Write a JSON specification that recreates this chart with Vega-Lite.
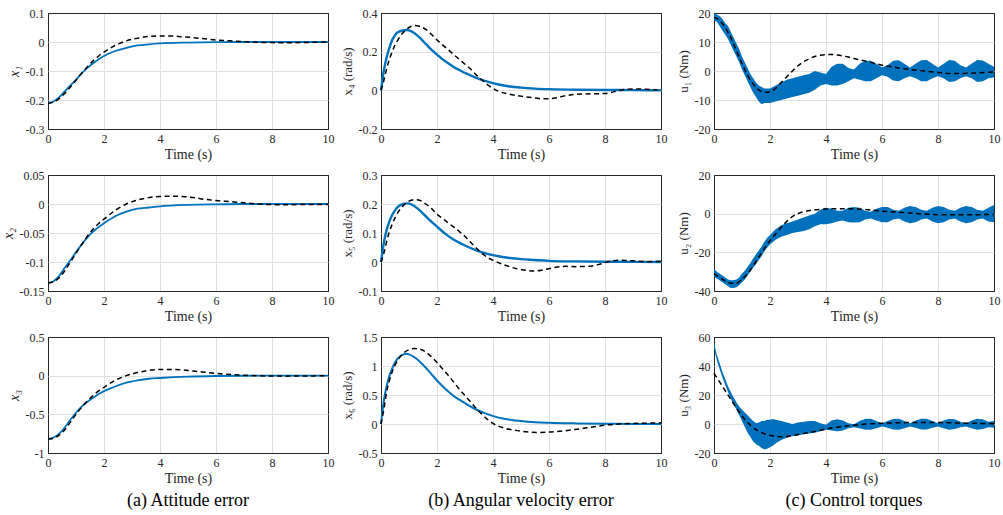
{
"$schema": "https://vega.github.io/schema/vega-lite/v6.json",
"background": "white",
"padding": {"left": 0, "top": 6, "right": 4, "bottom": 2},
"config": {
  "font": "Liberation Serif, serif",
  "view": {"stroke": "#262626", "strokeWidth": 1},
  "axis": {"domain": false, "ticks": false, "labelFlush": false, "labelOverlap": false,
    "gridColor": {"condition": {"test": "datum.index == 0 || datum.index == 1", "value": "#262626"}, "value": "#e0e0e0"}}
},
"datasets": {
"lines": [
{"p":"x1","s":"a","t":0,"y":-0.21},{"p":"x1","s":"a","t":0.2,"y":-0.205},{"p":"x1","s":"a","t":0.4,"y":-0.19},{"p":"x1","s":"a","t":0.6,"y":-0.17},{"p":"x1","s":"a","t":0.8,"y":-0.15},{"p":"x1","s":"a","t":1,"y":-0.13},{"p":"x1","s":"a","t":1.2,"y":-0.108},{"p":"x1","s":"a","t":1.4,"y":-0.09},{"p":"x1","s":"a","t":1.6,"y":-0.074},{"p":"x1","s":"a","t":1.8,"y":-0.06},{"p":"x1","s":"a","t":2,"y":-0.048},{"p":"x1","s":"a","t":2.4,"y":-0.031},{"p":"x1","s":"a","t":2.8,"y":-0.02},{"p":"x1","s":"a","t":3.2,"y":-0.012},{"p":"x1","s":"a","t":3.6,"y":-0.008},{"p":"x1","s":"a","t":4,"y":-0.005},{"p":"x1","s":"a","t":5,"y":-0.002},{"p":"x1","s":"a","t":6,"y":-0.0005},{"p":"x1","s":"a","t":7,"y":0},{"p":"x1","s":"a","t":8,"y":0},{"p":"x1","s":"a","t":9,"y":0},{"p":"x1","s":"a","t":10,"y":0},
{"p":"x1","s":"b","t":0,"y":-0.212},{"p":"x1","s":"b","t":0.2,"y":-0.207},{"p":"x1","s":"b","t":0.4,"y":-0.195},{"p":"x1","s":"b","t":0.6,"y":-0.177},{"p":"x1","s":"b","t":0.8,"y":-0.155},{"p":"x1","s":"b","t":1,"y":-0.132},{"p":"x1","s":"b","t":1.2,"y":-0.108},{"p":"x1","s":"b","t":1.4,"y":-0.086},{"p":"x1","s":"b","t":1.6,"y":-0.066},{"p":"x1","s":"b","t":1.8,"y":-0.049},{"p":"x1","s":"b","t":2,"y":-0.035},{"p":"x1","s":"b","t":2.4,"y":-0.012},{"p":"x1","s":"b","t":2.8,"y":0.004},{"p":"x1","s":"b","t":3.2,"y":0.013},{"p":"x1","s":"b","t":3.6,"y":0.019},{"p":"x1","s":"b","t":4,"y":0.021},{"p":"x1","s":"b","t":4.4,"y":0.021},{"p":"x1","s":"b","t":4.8,"y":0.018},{"p":"x1","s":"b","t":5.2,"y":0.015},{"p":"x1","s":"b","t":5.6,"y":0.011},{"p":"x1","s":"b","t":6,"y":0.007},{"p":"x1","s":"b","t":6.5,"y":0.004},{"p":"x1","s":"b","t":7,"y":0.001},{"p":"x1","s":"b","t":7.5,"y":-0.001},{"p":"x1","s":"b","t":8,"y":-0.002},{"p":"x1","s":"b","t":8.5,"y":-0.0025},{"p":"x1","s":"b","t":9,"y":-0.002},{"p":"x1","s":"b","t":9.5,"y":-0.001},{"p":"x1","s":"b","t":10,"y":0},
{"p":"x2","s":"a","t":0,"y":-0.136},{"p":"x2","s":"a","t":0.2,"y":-0.133},{"p":"x2","s":"a","t":0.4,"y":-0.124},{"p":"x2","s":"a","t":0.6,"y":-0.11},{"p":"x2","s":"a","t":0.8,"y":-0.097},{"p":"x2","s":"a","t":1,"y":-0.083},{"p":"x2","s":"a","t":1.2,"y":-0.07},{"p":"x2","s":"a","t":1.4,"y":-0.058},{"p":"x2","s":"a","t":1.6,"y":-0.048},{"p":"x2","s":"a","t":1.8,"y":-0.04},{"p":"x2","s":"a","t":2,"y":-0.033},{"p":"x2","s":"a","t":2.4,"y":-0.021},{"p":"x2","s":"a","t":2.8,"y":-0.013},{"p":"x2","s":"a","t":3.2,"y":-0.008},{"p":"x2","s":"a","t":3.6,"y":-0.006},{"p":"x2","s":"a","t":4,"y":-0.004},{"p":"x2","s":"a","t":5,"y":-0.0015},{"p":"x2","s":"a","t":6,"y":-0.0005},{"p":"x2","s":"a","t":7,"y":0},{"p":"x2","s":"a","t":8,"y":0},{"p":"x2","s":"a","t":9,"y":0},{"p":"x2","s":"a","t":10,"y":0},
{"p":"x2","s":"b","t":0,"y":-0.136},{"p":"x2","s":"b","t":0.2,"y":-0.134},{"p":"x2","s":"b","t":0.4,"y":-0.127},{"p":"x2","s":"b","t":0.6,"y":-0.115},{"p":"x2","s":"b","t":0.8,"y":-0.1},{"p":"x2","s":"b","t":1,"y":-0.085},{"p":"x2","s":"b","t":1.2,"y":-0.07},{"p":"x2","s":"b","t":1.4,"y":-0.056},{"p":"x2","s":"b","t":1.6,"y":-0.044},{"p":"x2","s":"b","t":1.8,"y":-0.034},{"p":"x2","s":"b","t":2,"y":-0.026},{"p":"x2","s":"b","t":2.4,"y":-0.011},{"p":"x2","s":"b","t":2.8,"y":0},{"p":"x2","s":"b","t":3.2,"y":0.007},{"p":"x2","s":"b","t":3.6,"y":0.011},{"p":"x2","s":"b","t":4,"y":0.013},{"p":"x2","s":"b","t":4.4,"y":0.0135},{"p":"x2","s":"b","t":4.8,"y":0.013},{"p":"x2","s":"b","t":5.2,"y":0.011},{"p":"x2","s":"b","t":5.6,"y":0.008},{"p":"x2","s":"b","t":6,"y":0.006},{"p":"x2","s":"b","t":6.5,"y":0.004},{"p":"x2","s":"b","t":7,"y":0.002},{"p":"x2","s":"b","t":7.5,"y":0},{"p":"x2","s":"b","t":8,"y":-0.001},{"p":"x2","s":"b","t":8.5,"y":-0.0015},{"p":"x2","s":"b","t":9,"y":-0.001},{"p":"x2","s":"b","t":10,"y":-0.001},
{"p":"x3","s":"a","t":0,"y":-0.82},{"p":"x3","s":"a","t":0.2,"y":-0.8},{"p":"x3","s":"a","t":0.4,"y":-0.75},{"p":"x3","s":"a","t":0.6,"y":-0.67},{"p":"x3","s":"a","t":0.8,"y":-0.57},{"p":"x3","s":"a","t":1,"y":-0.48},{"p":"x3","s":"a","t":1.2,"y":-0.4},{"p":"x3","s":"a","t":1.4,"y":-0.34},{"p":"x3","s":"a","t":1.6,"y":-0.29},{"p":"x3","s":"a","t":1.8,"y":-0.24},{"p":"x3","s":"a","t":2,"y":-0.2},{"p":"x3","s":"a","t":2.4,"y":-0.14},{"p":"x3","s":"a","t":2.8,"y":-0.09},{"p":"x3","s":"a","t":3.2,"y":-0.06},{"p":"x3","s":"a","t":3.6,"y":-0.04},{"p":"x3","s":"a","t":4,"y":-0.03},{"p":"x3","s":"a","t":5,"y":-0.012},{"p":"x3","s":"a","t":6,"y":-0.004},{"p":"x3","s":"a","t":7,"y":-0.001},{"p":"x3","s":"a","t":8,"y":0},{"p":"x3","s":"a","t":9,"y":0},{"p":"x3","s":"a","t":10,"y":0},
{"p":"x3","s":"b","t":0,"y":-0.82},{"p":"x3","s":"b","t":0.2,"y":-0.81},{"p":"x3","s":"b","t":0.4,"y":-0.77},{"p":"x3","s":"b","t":0.6,"y":-0.7},{"p":"x3","s":"b","t":0.8,"y":-0.6},{"p":"x3","s":"b","t":1,"y":-0.5},{"p":"x3","s":"b","t":1.2,"y":-0.41},{"p":"x3","s":"b","t":1.4,"y":-0.33},{"p":"x3","s":"b","t":1.6,"y":-0.26},{"p":"x3","s":"b","t":1.8,"y":-0.2},{"p":"x3","s":"b","t":2,"y":-0.15},{"p":"x3","s":"b","t":2.4,"y":-0.06},{"p":"x3","s":"b","t":2.8,"y":0},{"p":"x3","s":"b","t":3.2,"y":0.04},{"p":"x3","s":"b","t":3.6,"y":0.07},{"p":"x3","s":"b","t":4,"y":0.08},{"p":"x3","s":"b","t":4.4,"y":0.08},{"p":"x3","s":"b","t":4.8,"y":0.075},{"p":"x3","s":"b","t":5.2,"y":0.06},{"p":"x3","s":"b","t":5.6,"y":0.045},{"p":"x3","s":"b","t":6,"y":0.03},{"p":"x3","s":"b","t":6.5,"y":0.015},{"p":"x3","s":"b","t":7,"y":0.005},{"p":"x3","s":"b","t":7.5,"y":-0.002},{"p":"x3","s":"b","t":8,"y":-0.005},{"p":"x3","s":"b","t":8.5,"y":-0.006},{"p":"x3","s":"b","t":9,"y":-0.004},{"p":"x3","s":"b","t":10,"y":-0.002},
{"p":"x4","s":"a","t":0,"y":0},{"p":"x4","s":"a","t":0.1,"y":0.1},{"p":"x4","s":"a","t":0.2,"y":0.17},{"p":"x4","s":"a","t":0.3,"y":0.22},{"p":"x4","s":"a","t":0.4,"y":0.26},{"p":"x4","s":"a","t":0.5,"y":0.285},{"p":"x4","s":"a","t":0.6,"y":0.3},{"p":"x4","s":"a","t":0.8,"y":0.31},{"p":"x4","s":"a","t":0.9,"y":0.312},{"p":"x4","s":"a","t":1,"y":0.31},{"p":"x4","s":"a","t":1.2,"y":0.295},{"p":"x4","s":"a","t":1.4,"y":0.27},{"p":"x4","s":"a","t":1.6,"y":0.24},{"p":"x4","s":"a","t":1.8,"y":0.21},{"p":"x4","s":"a","t":2,"y":0.185},{"p":"x4","s":"a","t":2.2,"y":0.16},{"p":"x4","s":"a","t":2.4,"y":0.14},{"p":"x4","s":"a","t":2.6,"y":0.12},{"p":"x4","s":"a","t":2.8,"y":0.105},{"p":"x4","s":"a","t":3,"y":0.09},{"p":"x4","s":"a","t":3.4,"y":0.065},{"p":"x4","s":"a","t":3.8,"y":0.045},{"p":"x4","s":"a","t":4.2,"y":0.03},{"p":"x4","s":"a","t":4.6,"y":0.02},{"p":"x4","s":"a","t":5,"y":0.014},{"p":"x4","s":"a","t":5.5,"y":0.009},{"p":"x4","s":"a","t":6,"y":0.006},{"p":"x4","s":"a","t":7,"y":0.003},{"p":"x4","s":"a","t":8,"y":0.002},{"p":"x4","s":"a","t":9,"y":0.001},{"p":"x4","s":"a","t":10,"y":0},
{"p":"x4","s":"b","t":0,"y":0},{"p":"x4","s":"b","t":0.1,"y":0.05},{"p":"x4","s":"b","t":0.2,"y":0.11},{"p":"x4","s":"b","t":0.3,"y":0.16},{"p":"x4","s":"b","t":0.4,"y":0.2},{"p":"x4","s":"b","t":0.5,"y":0.235},{"p":"x4","s":"b","t":0.6,"y":0.26},{"p":"x4","s":"b","t":0.8,"y":0.3},{"p":"x4","s":"b","t":1,"y":0.325},{"p":"x4","s":"b","t":1.2,"y":0.335},{"p":"x4","s":"b","t":1.4,"y":0.33},{"p":"x4","s":"b","t":1.6,"y":0.315},{"p":"x4","s":"b","t":1.8,"y":0.29},{"p":"x4","s":"b","t":2,"y":0.26},{"p":"x4","s":"b","t":2.2,"y":0.235},{"p":"x4","s":"b","t":2.4,"y":0.21},{"p":"x4","s":"b","t":2.6,"y":0.185},{"p":"x4","s":"b","t":2.8,"y":0.16},{"p":"x4","s":"b","t":3,"y":0.135},{"p":"x4","s":"b","t":3.2,"y":0.11},{"p":"x4","s":"b","t":3.4,"y":0.08},{"p":"x4","s":"b","t":3.6,"y":0.055},{"p":"x4","s":"b","t":3.8,"y":0.03},{"p":"x4","s":"b","t":4,"y":0.01},{"p":"x4","s":"b","t":4.2,"y":-0.005},{"p":"x4","s":"b","t":4.6,"y":-0.02},{"p":"x4","s":"b","t":5,"y":-0.03},{"p":"x4","s":"b","t":5.4,"y":-0.038},{"p":"x4","s":"b","t":5.8,"y":-0.044},{"p":"x4","s":"b","t":6.2,"y":-0.04},{"p":"x4","s":"b","t":6.6,"y":-0.028},{"p":"x4","s":"b","t":7,"y":-0.02},{"p":"x4","s":"b","t":7.5,"y":-0.018},{"p":"x4","s":"b","t":8,"y":-0.016},{"p":"x4","s":"b","t":8.4,"y":-0.005},{"p":"x4","s":"b","t":8.8,"y":0.006},{"p":"x4","s":"b","t":9.2,"y":0.007},{"p":"x4","s":"b","t":9.6,"y":0.004},{"p":"x4","s":"b","t":10,"y":0},
{"p":"x5","s":"a","t":0,"y":0},{"p":"x5","s":"a","t":0.1,"y":0.065},{"p":"x5","s":"a","t":0.2,"y":0.11},{"p":"x5","s":"a","t":0.3,"y":0.14},{"p":"x5","s":"a","t":0.4,"y":0.162},{"p":"x5","s":"a","t":0.5,"y":0.178},{"p":"x5","s":"a","t":0.6,"y":0.19},{"p":"x5","s":"a","t":0.8,"y":0.2},{"p":"x5","s":"a","t":0.95,"y":0.202},{"p":"x5","s":"a","t":1.1,"y":0.198},{"p":"x5","s":"a","t":1.3,"y":0.185},{"p":"x5","s":"a","t":1.5,"y":0.167},{"p":"x5","s":"a","t":1.7,"y":0.148},{"p":"x5","s":"a","t":2,"y":0.122},{"p":"x5","s":"a","t":2.3,"y":0.097},{"p":"x5","s":"a","t":2.6,"y":0.077},{"p":"x5","s":"a","t":3,"y":0.057},{"p":"x5","s":"a","t":3.4,"y":0.04},{"p":"x5","s":"a","t":3.8,"y":0.028},{"p":"x5","s":"a","t":4.2,"y":0.02},{"p":"x5","s":"a","t":4.6,"y":0.014},{"p":"x5","s":"a","t":5,"y":0.01},{"p":"x5","s":"a","t":5.5,"y":0.007},{"p":"x5","s":"a","t":6,"y":0.004},{"p":"x5","s":"a","t":7,"y":0.002},{"p":"x5","s":"a","t":8,"y":0.001},{"p":"x5","s":"a","t":10,"y":0},
{"p":"x5","s":"b","t":0,"y":0},{"p":"x5","s":"b","t":0.1,"y":0.03},{"p":"x5","s":"b","t":0.2,"y":0.07},{"p":"x5","s":"b","t":0.3,"y":0.105},{"p":"x5","s":"b","t":0.4,"y":0.13},{"p":"x5","s":"b","t":0.5,"y":0.152},{"p":"x5","s":"b","t":0.6,"y":0.17},{"p":"x5","s":"b","t":0.8,"y":0.195},{"p":"x5","s":"b","t":1,"y":0.21},{"p":"x5","s":"b","t":1.2,"y":0.215},{"p":"x5","s":"b","t":1.4,"y":0.212},{"p":"x5","s":"b","t":1.6,"y":0.2},{"p":"x5","s":"b","t":1.8,"y":0.185},{"p":"x5","s":"b","t":2,"y":0.165},{"p":"x5","s":"b","t":2.2,"y":0.15},{"p":"x5","s":"b","t":2.4,"y":0.135},{"p":"x5","s":"b","t":2.6,"y":0.12},{"p":"x5","s":"b","t":2.8,"y":0.105},{"p":"x5","s":"b","t":3,"y":0.088},{"p":"x5","s":"b","t":3.2,"y":0.068},{"p":"x5","s":"b","t":3.4,"y":0.048},{"p":"x5","s":"b","t":3.6,"y":0.03},{"p":"x5","s":"b","t":3.8,"y":0.016},{"p":"x5","s":"b","t":4,"y":0.006},{"p":"x5","s":"b","t":4.4,"y":-0.01},{"p":"x5","s":"b","t":4.8,"y":-0.022},{"p":"x5","s":"b","t":5.2,"y":-0.029},{"p":"x5","s":"b","t":5.5,"y":-0.031},{"p":"x5","s":"b","t":5.8,"y":-0.027},{"p":"x5","s":"b","t":6.2,"y":-0.019},{"p":"x5","s":"b","t":6.6,"y":-0.015},{"p":"x5","s":"b","t":7,"y":-0.016},{"p":"x5","s":"b","t":7.4,"y":-0.015},{"p":"x5","s":"b","t":7.8,"y":-0.008},{"p":"x5","s":"b","t":8.2,"y":0.003},{"p":"x5","s":"b","t":8.6,"y":0.006},{"p":"x5","s":"b","t":9,"y":0.004},{"p":"x5","s":"b","t":9.5,"y":0.001},{"p":"x5","s":"b","t":10,"y":0.003},
{"p":"x6","s":"a","t":0,"y":0},{"p":"x6","s":"a","t":0.1,"y":0.4},{"p":"x6","s":"a","t":0.2,"y":0.65},{"p":"x6","s":"a","t":0.3,"y":0.83},{"p":"x6","s":"a","t":0.4,"y":0.96},{"p":"x6","s":"a","t":0.5,"y":1.06},{"p":"x6","s":"a","t":0.6,"y":1.13},{"p":"x6","s":"a","t":0.8,"y":1.2},{"p":"x6","s":"a","t":0.9,"y":1.21},{"p":"x6","s":"a","t":1,"y":1.2},{"p":"x6","s":"a","t":1.2,"y":1.15},{"p":"x6","s":"a","t":1.4,"y":1.07},{"p":"x6","s":"a","t":1.6,"y":0.97},{"p":"x6","s":"a","t":1.8,"y":0.86},{"p":"x6","s":"a","t":2,"y":0.75},{"p":"x6","s":"a","t":2.2,"y":0.65},{"p":"x6","s":"a","t":2.4,"y":0.56},{"p":"x6","s":"a","t":2.6,"y":0.48},{"p":"x6","s":"a","t":2.8,"y":0.42},{"p":"x6","s":"a","t":3,"y":0.36},{"p":"x6","s":"a","t":3.4,"y":0.25},{"p":"x6","s":"a","t":3.8,"y":0.17},{"p":"x6","s":"a","t":4.2,"y":0.11},{"p":"x6","s":"a","t":4.6,"y":0.075},{"p":"x6","s":"a","t":5,"y":0.05},{"p":"x6","s":"a","t":5.5,"y":0.03},{"p":"x6","s":"a","t":6,"y":0.02},{"p":"x6","s":"a","t":7,"y":0.01},{"p":"x6","s":"a","t":8,"y":0.005},{"p":"x6","s":"a","t":9,"y":0.002},{"p":"x6","s":"a","t":10,"y":0},
{"p":"x6","s":"b","t":0,"y":0},{"p":"x6","s":"b","t":0.1,"y":0.25},{"p":"x6","s":"b","t":0.2,"y":0.55},{"p":"x6","s":"b","t":0.3,"y":0.75},{"p":"x6","s":"b","t":0.4,"y":0.9},{"p":"x6","s":"b","t":0.6,"y":1.1},{"p":"x6","s":"b","t":0.8,"y":1.22},{"p":"x6","s":"b","t":1,"y":1.28},{"p":"x6","s":"b","t":1.2,"y":1.3},{"p":"x6","s":"b","t":1.4,"y":1.29},{"p":"x6","s":"b","t":1.6,"y":1.24},{"p":"x6","s":"b","t":1.8,"y":1.16},{"p":"x6","s":"b","t":2,"y":1.06},{"p":"x6","s":"b","t":2.2,"y":0.95},{"p":"x6","s":"b","t":2.4,"y":0.84},{"p":"x6","s":"b","t":2.6,"y":0.72},{"p":"x6","s":"b","t":2.8,"y":0.6},{"p":"x6","s":"b","t":3,"y":0.49},{"p":"x6","s":"b","t":3.2,"y":0.38},{"p":"x6","s":"b","t":3.4,"y":0.27},{"p":"x6","s":"b","t":3.6,"y":0.17},{"p":"x6","s":"b","t":3.8,"y":0.08},{"p":"x6","s":"b","t":4,"y":0.01},{"p":"x6","s":"b","t":4.4,"y":-0.07},{"p":"x6","s":"b","t":4.8,"y":-0.11},{"p":"x6","s":"b","t":5.2,"y":-0.135},{"p":"x6","s":"b","t":5.6,"y":-0.145},{"p":"x6","s":"b","t":6,"y":-0.14},{"p":"x6","s":"b","t":6.5,"y":-0.12},{"p":"x6","s":"b","t":7,"y":-0.09},{"p":"x6","s":"b","t":7.5,"y":-0.055},{"p":"x6","s":"b","t":8,"y":-0.02},{"p":"x6","s":"b","t":8.5,"y":0},{"p":"x6","s":"b","t":9,"y":0.01},{"p":"x6","s":"b","t":9.5,"y":0.015},{"p":"x6","s":"b","t":10,"y":0.02},
{"p":"u1","s":"b","t":0,"y":18.5},{"p":"u1","s":"b","t":0.2,"y":17.5},{"p":"u1","s":"b","t":0.4,"y":15},{"p":"u1","s":"b","t":0.6,"y":11.5},{"p":"u1","s":"b","t":0.8,"y":7},{"p":"u1","s":"b","t":1,"y":2.5},{"p":"u1","s":"b","t":1.2,"y":-1.5},{"p":"u1","s":"b","t":1.4,"y":-4.5},{"p":"u1","s":"b","t":1.6,"y":-6.5},{"p":"u1","s":"b","t":1.8,"y":-7.3},{"p":"u1","s":"b","t":2,"y":-7.2},{"p":"u1","s":"b","t":2.2,"y":-6},{"p":"u1","s":"b","t":2.4,"y":-4},{"p":"u1","s":"b","t":2.6,"y":-2},{"p":"u1","s":"b","t":2.8,"y":0},{"p":"u1","s":"b","t":3,"y":1.8},{"p":"u1","s":"b","t":3.2,"y":3.2},{"p":"u1","s":"b","t":3.4,"y":4.2},{"p":"u1","s":"b","t":3.6,"y":5},{"p":"u1","s":"b","t":3.8,"y":5.4},{"p":"u1","s":"b","t":4,"y":5.6},{"p":"u1","s":"b","t":4.2,"y":5.7},{"p":"u1","s":"b","t":4.4,"y":5.5},{"p":"u1","s":"b","t":4.6,"y":5.2},{"p":"u1","s":"b","t":4.8,"y":4.8},{"p":"u1","s":"b","t":5,"y":4.3},{"p":"u1","s":"b","t":5.5,"y":3.2},{"p":"u1","s":"b","t":6,"y":2},{"p":"u1","s":"b","t":6.5,"y":1.2},{"p":"u1","s":"b","t":7,"y":0.5},{"p":"u1","s":"b","t":7.5,"y":0},{"p":"u1","s":"b","t":8,"y":-0.5},{"p":"u1","s":"b","t":8.5,"y":-0.85},{"p":"u1","s":"b","t":9,"y":-0.8},{"p":"u1","s":"b","t":9.5,"y":-0.6},{"p":"u1","s":"b","t":10,"y":-0.35},
{"p":"u2","s":"b","t":0,"y":-31},{"p":"u2","s":"b","t":0.2,"y":-33},{"p":"u2","s":"b","t":0.4,"y":-34.8},{"p":"u2","s":"b","t":0.6,"y":-36},{"p":"u2","s":"b","t":0.8,"y":-36},{"p":"u2","s":"b","t":1,"y":-34},{"p":"u2","s":"b","t":1.2,"y":-31},{"p":"u2","s":"b","t":1.4,"y":-27},{"p":"u2","s":"b","t":1.6,"y":-22.5},{"p":"u2","s":"b","t":1.8,"y":-18},{"p":"u2","s":"b","t":2,"y":-14},{"p":"u2","s":"b","t":2.2,"y":-10.5},{"p":"u2","s":"b","t":2.4,"y":-7},{"p":"u2","s":"b","t":2.6,"y":-4},{"p":"u2","s":"b","t":2.8,"y":-1.5},{"p":"u2","s":"b","t":3,"y":0},{"p":"u2","s":"b","t":3.2,"y":1},{"p":"u2","s":"b","t":3.6,"y":2},{"p":"u2","s":"b","t":4,"y":2.4},{"p":"u2","s":"b","t":4.5,"y":2.6},{"p":"u2","s":"b","t":5,"y":2.5},{"p":"u2","s":"b","t":5.5,"y":2},{"p":"u2","s":"b","t":6,"y":1.3},{"p":"u2","s":"b","t":6.5,"y":0.8},{"p":"u2","s":"b","t":7,"y":0.3},{"p":"u2","s":"b","t":7.5,"y":-0.2},{"p":"u2","s":"b","t":8,"y":-0.5},{"p":"u2","s":"b","t":8.5,"y":-0.6},{"p":"u2","s":"b","t":9,"y":-0.6},{"p":"u2","s":"b","t":9.5,"y":-0.5},{"p":"u2","s":"b","t":10,"y":-0.4},
{"p":"u3","s":"b","t":0,"y":35},{"p":"u3","s":"b","t":0.2,"y":29},{"p":"u3","s":"b","t":0.4,"y":23},{"p":"u3","s":"b","t":0.6,"y":17},{"p":"u3","s":"b","t":0.8,"y":11},{"p":"u3","s":"b","t":1,"y":5.5},{"p":"u3","s":"b","t":1.2,"y":1},{"p":"u3","s":"b","t":1.4,"y":-2.5},{"p":"u3","s":"b","t":1.6,"y":-5},{"p":"u3","s":"b","t":1.8,"y":-6.7},{"p":"u3","s":"b","t":2,"y":-7.8},{"p":"u3","s":"b","t":2.2,"y":-8.5},{"p":"u3","s":"b","t":2.4,"y":-8.8},{"p":"u3","s":"b","t":2.6,"y":-8.6},{"p":"u3","s":"b","t":2.8,"y":-8},{"p":"u3","s":"b","t":3,"y":-7.2},{"p":"u3","s":"b","t":3.4,"y":-5.9},{"p":"u3","s":"b","t":3.8,"y":-4.3},{"p":"u3","s":"b","t":4.2,"y":-2.8},{"p":"u3","s":"b","t":4.6,"y":-1.7},{"p":"u3","s":"b","t":5,"y":-0.8},{"p":"u3","s":"b","t":5.5,"y":0},{"p":"u3","s":"b","t":6,"y":0.5},{"p":"u3","s":"b","t":6.5,"y":0.8},{"p":"u3","s":"b","t":7,"y":1},{"p":"u3","s":"b","t":7.5,"y":1.1},{"p":"u3","s":"b","t":8,"y":1},{"p":"u3","s":"b","t":8.5,"y":0.8},{"p":"u3","s":"b","t":9,"y":0.6},{"p":"u3","s":"b","t":9.5,"y":0.4},{"p":"u3","s":"b","t":10,"y":0.2}
],
"bands": [
{"p":"u1","t":0,"y":17.5,"hi":20},{"p":"u1","t":0.1,"y":17,"hi":19.5},{"p":"u1","t":0.2,"y":15.5,"hi":19},{"p":"u1","t":0.3,"y":14,"hi":18},{"p":"u1","t":0.4,"y":12.5,"hi":16.5},{"p":"u1","t":0.5,"y":11,"hi":15.5},{"p":"u1","t":0.6,"y":9,"hi":13.5},{"p":"u1","t":0.7,"y":7,"hi":11.5},{"p":"u1","t":0.8,"y":5,"hi":9.5},{"p":"u1","t":0.9,"y":3,"hi":7.5},{"p":"u1","t":1,"y":0.5,"hi":5},{"p":"u1","t":1.1,"y":-1.5,"hi":3},{"p":"u1","t":1.2,"y":-3.5,"hi":1},{"p":"u1","t":1.3,"y":-5.5,"hi":-1},{"p":"u1","t":1.4,"y":-7.5,"hi":-2.5},{"p":"u1","t":1.5,"y":-9,"hi":-4},{"p":"u1","t":1.6,"y":-10.5,"hi":-5},{"p":"u1","t":1.7,"y":-11.5,"hi":-5.5},{"p":"u1","t":1.8,"y":-11,"hi":-6},{"p":"u1","t":1.9,"y":-11,"hi":-6},{"p":"u1","t":2,"y":-11,"hi":-6},{"p":"u1","t":2.2,"y":-10.5,"hi":-5},{"p":"u1","t":2.4,"y":-10,"hi":-4},{"p":"u1","t":2.6,"y":-9.5,"hi":-3},{"p":"u1","t":2.8,"y":-9,"hi":-2.5},{"p":"u1","t":3,"y":-8.5,"hi":-2},{"p":"u1","t":3.2,"y":-8,"hi":-1.5},{"p":"u1","t":3.4,"y":-7.5,"hi":-1},{"p":"u1","t":3.6,"y":-6.5,"hi":0},{"p":"u1","t":3.8,"y":-5,"hi":-0.5},{"p":"u1","t":4,"y":-4.5,"hi":-1},{"p":"u1","t":4.2,"y":-5,"hi":1.5},{"p":"u1","t":4.4,"y":-5,"hi":2.5},{"p":"u1","t":4.6,"y":-4.5,"hi":2.5},{"p":"u1","t":4.8,"y":-3.5,"hi":1},{"p":"u1","t":5,"y":-2.5,"hi":0.5},{"p":"u1","t":5.2,"y":-3,"hi":2.5},{"p":"u1","t":5.4,"y":-3.5,"hi":3.5},{"p":"u1","t":5.6,"y":-3.5,"hi":3.5},{"p":"u1","t":5.8,"y":-2.5,"hi":2.5},{"p":"u1","t":6,"y":-1.5,"hi":1.2},{"p":"u1","t":6.2,"y":-2,"hi":2},{"p":"u1","t":6.4,"y":-3.3,"hi":3.5},{"p":"u1","t":6.6,"y":-3.5,"hi":3.7},{"p":"u1","t":6.8,"y":-2.5,"hi":2.5},{"p":"u1","t":7,"y":-1.8,"hi":1.2},{"p":"u1","t":7.2,"y":-2.5,"hi":2.5},{"p":"u1","t":7.4,"y":-3.5,"hi":3.7},{"p":"u1","t":7.6,"y":-3.5,"hi":3.8},{"p":"u1","t":7.8,"y":-2.5,"hi":2.5},{"p":"u1","t":8,"y":-1.8,"hi":1.2},{"p":"u1","t":8.2,"y":-2.5,"hi":2.5},{"p":"u1","t":8.4,"y":-3.8,"hi":3.8},{"p":"u1","t":8.6,"y":-3.5,"hi":3.5},{"p":"u1","t":8.8,"y":-2.5,"hi":2},{"p":"u1","t":9,"y":-1.8,"hi":1.2},{"p":"u1","t":9.2,"y":-2.5,"hi":2.5},{"p":"u1","t":9.4,"y":-3.8,"hi":3.8},{"p":"u1","t":9.6,"y":-3.5,"hi":3.6},{"p":"u1","t":9.8,"y":-2.5,"hi":2.5},{"p":"u1","t":10,"y":-2.2,"hi":1.5},
{"p":"u2","t":0,"y":-32.5,"hi":-28.5},{"p":"u2","t":0.1,"y":-33.5,"hi":-30},{"p":"u2","t":0.2,"y":-34.5,"hi":-31},{"p":"u2","t":0.3,"y":-35.5,"hi":-32},{"p":"u2","t":0.4,"y":-36.5,"hi":-33},{"p":"u2","t":0.5,"y":-37.5,"hi":-34},{"p":"u2","t":0.6,"y":-38.5,"hi":-34.5},{"p":"u2","t":0.7,"y":-38.5,"hi":-34.5},{"p":"u2","t":0.8,"y":-38,"hi":-34},{"p":"u2","t":0.9,"y":-37,"hi":-33},{"p":"u2","t":1,"y":-35.5,"hi":-31},{"p":"u2","t":1.1,"y":-34,"hi":-29.5},{"p":"u2","t":1.2,"y":-32,"hi":-27.5},{"p":"u2","t":1.3,"y":-30,"hi":-25.5},{"p":"u2","t":1.4,"y":-28,"hi":-23},{"p":"u2","t":1.5,"y":-26,"hi":-21},{"p":"u2","t":1.6,"y":-24,"hi":-19},{"p":"u2","t":1.7,"y":-22,"hi":-17},{"p":"u2","t":1.8,"y":-19.5,"hi":-14.5},{"p":"u2","t":1.9,"y":-17.5,"hi":-12.5},{"p":"u2","t":2,"y":-16,"hi":-11},{"p":"u2","t":2.2,"y":-13.5,"hi":-8},{"p":"u2","t":2.4,"y":-12,"hi":-6},{"p":"u2","t":2.6,"y":-11,"hi":-5},{"p":"u2","t":2.8,"y":-10,"hi":-4},{"p":"u2","t":3,"y":-9.5,"hi":-3},{"p":"u2","t":3.2,"y":-9,"hi":-2},{"p":"u2","t":3.4,"y":-8,"hi":-1},{"p":"u2","t":3.6,"y":-6.5,"hi":0},{"p":"u2","t":3.8,"y":-5.5,"hi":2},{"p":"u2","t":4,"y":-5.5,"hi":3},{"p":"u2","t":4.2,"y":-5,"hi":2.5},{"p":"u2","t":4.4,"y":-4,"hi":1.5},{"p":"u2","t":4.6,"y":-3.5,"hi":1.5},{"p":"u2","t":4.8,"y":-4.5,"hi":3},{"p":"u2","t":5,"y":-4.6,"hi":3.5},{"p":"u2","t":5.2,"y":-4.5,"hi":3},{"p":"u2","t":5.4,"y":-3,"hi":1.5},{"p":"u2","t":5.6,"y":-2.5,"hi":1},{"p":"u2","t":5.8,"y":-3.5,"hi":2.5},{"p":"u2","t":6,"y":-4.5,"hi":3.5},{"p":"u2","t":6.2,"y":-4.5,"hi":3.5},{"p":"u2","t":6.4,"y":-3,"hi":2},{"p":"u2","t":6.6,"y":-2.5,"hi":1.5},{"p":"u2","t":6.8,"y":-4,"hi":3},{"p":"u2","t":7,"y":-5,"hi":4},{"p":"u2","t":7.2,"y":-4.5,"hi":3.5},{"p":"u2","t":7.4,"y":-3,"hi":2},{"p":"u2","t":7.6,"y":-2.5,"hi":1.5},{"p":"u2","t":7.8,"y":-4,"hi":3},{"p":"u2","t":8,"y":-5,"hi":4},{"p":"u2","t":8.2,"y":-4.5,"hi":3.5},{"p":"u2","t":8.4,"y":-3,"hi":2},{"p":"u2","t":8.6,"y":-2.5,"hi":1.5},{"p":"u2","t":8.8,"y":-4,"hi":3},{"p":"u2","t":9,"y":-5,"hi":4},{"p":"u2","t":9.2,"y":-4.5,"hi":3.5},{"p":"u2","t":9.4,"y":-3,"hi":2},{"p":"u2","t":9.6,"y":-2.5,"hi":1.5},{"p":"u2","t":9.8,"y":-4,"hi":3},{"p":"u2","t":10,"y":-4.5,"hi":4.5},
{"p":"u3","t":0,"y":53,"hi":57},{"p":"u3","t":0.05,"y":48,"hi":52},{"p":"u3","t":0.1,"y":44,"hi":48},{"p":"u3","t":0.2,"y":38,"hi":42},{"p":"u3","t":0.3,"y":32,"hi":36},{"p":"u3","t":0.4,"y":27,"hi":31},{"p":"u3","t":0.5,"y":22,"hi":26},{"p":"u3","t":0.6,"y":17.5,"hi":22},{"p":"u3","t":0.7,"y":13.5,"hi":18.5},{"p":"u3","t":0.8,"y":10,"hi":15},{"p":"u3","t":0.9,"y":6,"hi":12},{"p":"u3","t":1,"y":2,"hi":10},{"p":"u3","t":1.1,"y":-2,"hi":8},{"p":"u3","t":1.2,"y":-6,"hi":6},{"p":"u3","t":1.3,"y":-9,"hi":4},{"p":"u3","t":1.4,"y":-12,"hi":2},{"p":"u3","t":1.5,"y":-14,"hi":0.5},{"p":"u3","t":1.6,"y":-15,"hi":1},{"p":"u3","t":1.7,"y":-16.5,"hi":2},{"p":"u3","t":1.8,"y":-17.5,"hi":2},{"p":"u3","t":1.9,"y":-17,"hi":3},{"p":"u3","t":2,"y":-16,"hi":3},{"p":"u3","t":2.1,"y":-15,"hi":3.5},{"p":"u3","t":2.2,"y":-13.5,"hi":3},{"p":"u3","t":2.4,"y":-11,"hi":2},{"p":"u3","t":2.6,"y":-9.5,"hi":1},{"p":"u3","t":2.8,"y":-8.5,"hi":0},{"p":"u3","t":3,"y":-8,"hi":1},{"p":"u3","t":3.2,"y":-7,"hi":1.5},{"p":"u3","t":3.4,"y":-6.5,"hi":2},{"p":"u3","t":3.6,"y":-6,"hi":2},{"p":"u3","t":3.8,"y":-5,"hi":0.5},{"p":"u3","t":4,"y":-4,"hi":-0.5},{"p":"u3","t":4.2,"y":-4.5,"hi":2.5},{"p":"u3","t":4.4,"y":-5,"hi":3.2},{"p":"u3","t":4.6,"y":-4.5,"hi":2.5},{"p":"u3","t":4.8,"y":-3,"hi":0.5},{"p":"u3","t":5,"y":-2.2,"hi":-0.2},{"p":"u3","t":5.2,"y":-3,"hi":2},{"p":"u3","t":5.4,"y":-4,"hi":3.5},{"p":"u3","t":5.6,"y":-4,"hi":3.7},{"p":"u3","t":5.8,"y":-3,"hi":2},{"p":"u3","t":6,"y":-1.8,"hi":0.5},{"p":"u3","t":6.2,"y":-2.5,"hi":2},{"p":"u3","t":6.4,"y":-3.8,"hi":3.5},{"p":"u3","t":6.6,"y":-4,"hi":3.7},{"p":"u3","t":6.8,"y":-3,"hi":2},{"p":"u3","t":7,"y":-1.8,"hi":0.5},{"p":"u3","t":7.2,"y":-2.5,"hi":2.5},{"p":"u3","t":7.4,"y":-3.8,"hi":3.7},{"p":"u3","t":7.6,"y":-3.8,"hi":3.7},{"p":"u3","t":7.8,"y":-2.5,"hi":2},{"p":"u3","t":8,"y":-1.8,"hi":0.5},{"p":"u3","t":8.2,"y":-3,"hi":2.5},{"p":"u3","t":8.4,"y":-4,"hi":3.7},{"p":"u3","t":8.6,"y":-3.5,"hi":3.3},{"p":"u3","t":8.8,"y":-2.2,"hi":1.5},{"p":"u3","t":9,"y":-1.8,"hi":0.5},{"p":"u3","t":9.2,"y":-3,"hi":2.5},{"p":"u3","t":9.4,"y":-4,"hi":3.7},{"p":"u3","t":9.6,"y":-3.5,"hi":3.3},{"p":"u3","t":9.8,"y":-2.2,"hi":1.5},{"p":"u3","t":10,"y":-2.5,"hi":2}
]
},
"columns": 3,
"spacing": {"row": 46, "column": 53},
"bounds": "flush",
"concat": [
{"width": 280, "height": 116, "data": {"name": "lines"},
 "encoding": {"x": {"field": "t", "type": "quantitative", "scale": {"domain": [0, 10], "nice": false}, "axis": {"values": [0, 2, 4, 6, 8, 10], "title": "Time (s)", "labelOverlap": false, "labelFont": "Liberation Serif", "labelFontSize": 12, "labelColor": "#262626", "labelPadding": 4, "titleFont": "Liberation Serif", "titleFontSize": 14, "titleFontWeight": "normal", "titleColor": "#262626", "titlePadding": 3}},
  "y": {"field": "y", "type": "quantitative", "scale": {"domain": [-0.3, 0.1], "nice": false, "zero": false}, "axis": {"values": [-0.3, -0.2, -0.1, 0, 0.1], "labelExpr": "'' + datum.value", "title": "x₁", "titleFontStyle": "italic", "labelOverlap": false, "labelFont": "Liberation Serif", "labelFontSize": 12, "labelColor": "#262626", "labelPadding": 4, "titleFont": "Liberation Serif", "titleFontSize": 14, "titleFontWeight": "normal", "titleColor": "#262626", "titlePadding": 4}}},
 "layer": [
  {"transform": [{"filter": "datum.p=='x1' && datum.s=='a'"}], "mark": {"type": "line", "color": "#0072BD", "strokeWidth": 1.8, "interpolate": "monotone"}},
  {"transform": [{"filter": "datum.p=='x1' && datum.s=='b'"}], "mark": {"type": "line", "color": "black", "strokeWidth": 1.5, "strokeDash": [5, 3.5], "interpolate": "monotone"}}
]},
{"width": 280, "height": 116, "data": {"name": "lines"},
 "encoding": {"x": {"field": "t", "type": "quantitative", "scale": {"domain": [0, 10], "nice": false}, "axis": {"values": [0, 2, 4, 6, 8, 10], "title": "Time (s)", "labelOverlap": false, "labelFont": "Liberation Serif", "labelFontSize": 12, "labelColor": "#262626", "labelPadding": 4, "titleFont": "Liberation Serif", "titleFontSize": 14, "titleFontWeight": "normal", "titleColor": "#262626", "titlePadding": 3}},
  "y": {"field": "y", "type": "quantitative", "scale": {"domain": [-0.2, 0.4], "nice": false, "zero": false}, "axis": {"values": [-0.2, 0, 0.2, 0.4], "labelExpr": "'' + datum.value", "title": "x₄ (rad/s)", "labelOverlap": false, "labelFont": "Liberation Serif", "labelFontSize": 12, "labelColor": "#262626", "labelPadding": 4, "titleFont": "Liberation Serif", "titleFontSize": 13, "titleFontWeight": "normal", "titleColor": "#262626", "titlePadding": 4}}},
 "layer": [
  {"transform": [{"filter": "datum.p=='x4' && datum.s=='a'"}], "mark": {"type": "line", "color": "#0072BD", "strokeWidth": 2.4, "interpolate": "monotone"}},
  {"transform": [{"filter": "datum.p=='x4' && datum.s=='b'"}], "mark": {"type": "line", "color": "black", "strokeWidth": 1.5, "strokeDash": [5, 3.5], "interpolate": "monotone"}}
]},
{"width": 280, "height": 116,
 "encoding": {"x": {"field": "t", "type": "quantitative", "scale": {"domain": [0, 10], "nice": false}, "axis": {"values": [0, 2, 4, 6, 8, 10], "title": "Time (s)", "labelOverlap": false, "labelFont": "Liberation Serif", "labelFontSize": 12, "labelColor": "#262626", "labelPadding": 4, "titleFont": "Liberation Serif", "titleFontSize": 14, "titleFontWeight": "normal", "titleColor": "#262626", "titlePadding": 3}},
  "y": {"field": "y", "type": "quantitative", "scale": {"domain": [-20, 20], "nice": false, "zero": false}, "axis": {"values": [-20, -10, 0, 10, 20], "labelExpr": "'' + datum.value", "title": "u₁ (Nm)", "labelOverlap": false, "labelFont": "Liberation Serif", "labelFontSize": 12, "labelColor": "#262626", "labelPadding": 4, "titleFont": "Liberation Serif", "titleFontSize": 13, "titleFontWeight": "normal", "titleColor": "#262626", "titlePadding": 4}}},
 "layer": [
  {"data": {"name": "bands"}, "transform": [{"filter": "datum.p=='u1'"}], "mark": {"type": "area", "color": "#0072BD", "opacity": 1}, "encoding": {"y2": {"field": "hi"}}},
  {"data": {"name": "lines"}, "transform": [{"filter": "datum.p=='u1' && datum.s=='b'"}], "mark": {"type": "line", "color": "black", "strokeWidth": 1.5, "strokeDash": [5, 3.5], "interpolate": "monotone"}}
]},
{"width": 280, "height": 116, "data": {"name": "lines"},
 "encoding": {"x": {"field": "t", "type": "quantitative", "scale": {"domain": [0, 10], "nice": false}, "axis": {"values": [0, 2, 4, 6, 8, 10], "title": "Time (s)", "labelOverlap": false, "labelFont": "Liberation Serif", "labelFontSize": 12, "labelColor": "#262626", "labelPadding": 4, "titleFont": "Liberation Serif", "titleFontSize": 14, "titleFontWeight": "normal", "titleColor": "#262626", "titlePadding": 3}},
  "y": {"field": "y", "type": "quantitative", "scale": {"domain": [-0.15, 0.05], "nice": false, "zero": false}, "axis": {"values": [-0.15, -0.1, -0.05, 0, 0.05], "labelExpr": "'' + datum.value", "title": "x₂", "titleFontStyle": "italic", "labelOverlap": false, "labelFont": "Liberation Serif", "labelFontSize": 12, "labelColor": "#262626", "labelPadding": 4, "titleFont": "Liberation Serif", "titleFontSize": 14, "titleFontWeight": "normal", "titleColor": "#262626", "titlePadding": 4}}},
 "layer": [
  {"transform": [{"filter": "datum.p=='x2' && datum.s=='a'"}], "mark": {"type": "line", "color": "#0072BD", "strokeWidth": 1.8, "interpolate": "monotone"}},
  {"transform": [{"filter": "datum.p=='x2' && datum.s=='b'"}], "mark": {"type": "line", "color": "black", "strokeWidth": 1.5, "strokeDash": [5, 3.5], "interpolate": "monotone"}}
]},
{"width": 280, "height": 116, "data": {"name": "lines"},
 "encoding": {"x": {"field": "t", "type": "quantitative", "scale": {"domain": [0, 10], "nice": false}, "axis": {"values": [0, 2, 4, 6, 8, 10], "title": "Time (s)", "labelOverlap": false, "labelFont": "Liberation Serif", "labelFontSize": 12, "labelColor": "#262626", "labelPadding": 4, "titleFont": "Liberation Serif", "titleFontSize": 14, "titleFontWeight": "normal", "titleColor": "#262626", "titlePadding": 3}},
  "y": {"field": "y", "type": "quantitative", "scale": {"domain": [-0.1, 0.3], "nice": false, "zero": false}, "axis": {"values": [-0.1, 0, 0.1, 0.2, 0.3], "labelExpr": "'' + datum.value", "title": "x₅ (rad/s)", "labelOverlap": false, "labelFont": "Liberation Serif", "labelFontSize": 12, "labelColor": "#262626", "labelPadding": 4, "titleFont": "Liberation Serif", "titleFontSize": 13, "titleFontWeight": "normal", "titleColor": "#262626", "titlePadding": 4}}},
 "layer": [
  {"transform": [{"filter": "datum.p=='x5' && datum.s=='a'"}], "mark": {"type": "line", "color": "#0072BD", "strokeWidth": 2.4, "interpolate": "monotone"}},
  {"transform": [{"filter": "datum.p=='x5' && datum.s=='b'"}], "mark": {"type": "line", "color": "black", "strokeWidth": 1.5, "strokeDash": [5, 3.5], "interpolate": "monotone"}}
]},
{"width": 280, "height": 116,
 "encoding": {"x": {"field": "t", "type": "quantitative", "scale": {"domain": [0, 10], "nice": false}, "axis": {"values": [0, 2, 4, 6, 8, 10], "title": "Time (s)", "labelOverlap": false, "labelFont": "Liberation Serif", "labelFontSize": 12, "labelColor": "#262626", "labelPadding": 4, "titleFont": "Liberation Serif", "titleFontSize": 14, "titleFontWeight": "normal", "titleColor": "#262626", "titlePadding": 3}},
  "y": {"field": "y", "type": "quantitative", "scale": {"domain": [-40, 20], "nice": false, "zero": false}, "axis": {"values": [-40, -20, 0, 20], "labelExpr": "'' + datum.value", "title": "u₂ (Nm)", "labelOverlap": false, "labelFont": "Liberation Serif", "labelFontSize": 12, "labelColor": "#262626", "labelPadding": 4, "titleFont": "Liberation Serif", "titleFontSize": 13, "titleFontWeight": "normal", "titleColor": "#262626", "titlePadding": 4}}},
 "layer": [
  {"data": {"name": "bands"}, "transform": [{"filter": "datum.p=='u2'"}], "mark": {"type": "area", "color": "#0072BD", "opacity": 1}, "encoding": {"y2": {"field": "hi"}}},
  {"data": {"name": "lines"}, "transform": [{"filter": "datum.p=='u2' && datum.s=='b'"}], "mark": {"type": "line", "color": "black", "strokeWidth": 1.5, "strokeDash": [5, 3.5], "interpolate": "monotone"}}
]},
{"width": 280, "height": 116, "data": {"name": "lines"},
 "title": {"text": "(a) Attitude error", "orient": "bottom", "anchor": "middle", "frame": "group", "offset": 7, "font": "Liberation Serif", "fontSize": 18, "fontWeight": "normal", "color": "black"},
 "encoding": {"x": {"field": "t", "type": "quantitative", "scale": {"domain": [0, 10], "nice": false}, "axis": {"values": [0, 2, 4, 6, 8, 10], "title": "Time (s)", "labelOverlap": false, "labelFont": "Liberation Serif", "labelFontSize": 12, "labelColor": "#262626", "labelPadding": 4, "titleFont": "Liberation Serif", "titleFontSize": 14, "titleFontWeight": "normal", "titleColor": "#262626", "titlePadding": 3}},
  "y": {"field": "y", "type": "quantitative", "scale": {"domain": [-1, 0.5], "nice": false, "zero": false}, "axis": {"values": [-1, -0.5, 0, 0.5], "labelExpr": "'' + datum.value", "title": "x₃", "titleFontStyle": "italic", "labelOverlap": false, "labelFont": "Liberation Serif", "labelFontSize": 12, "labelColor": "#262626", "labelPadding": 4, "titleFont": "Liberation Serif", "titleFontSize": 14, "titleFontWeight": "normal", "titleColor": "#262626", "titlePadding": 4}}},
 "layer": [
  {"transform": [{"filter": "datum.p=='x3' && datum.s=='a'"}], "mark": {"type": "line", "color": "#0072BD", "strokeWidth": 1.8, "interpolate": "monotone"}},
  {"transform": [{"filter": "datum.p=='x3' && datum.s=='b'"}], "mark": {"type": "line", "color": "black", "strokeWidth": 1.5, "strokeDash": [5, 3.5], "interpolate": "monotone"}}
]},
{"width": 280, "height": 116, "data": {"name": "lines"},
 "title": {"text": "(b) Angular velocity error", "orient": "bottom", "anchor": "middle", "frame": "group", "offset": 7, "font": "Liberation Serif", "fontSize": 18, "fontWeight": "normal", "color": "black"},
 "encoding": {"x": {"field": "t", "type": "quantitative", "scale": {"domain": [0, 10], "nice": false}, "axis": {"values": [0, 2, 4, 6, 8, 10], "title": "Time (s)", "labelOverlap": false, "labelFont": "Liberation Serif", "labelFontSize": 12, "labelColor": "#262626", "labelPadding": 4, "titleFont": "Liberation Serif", "titleFontSize": 14, "titleFontWeight": "normal", "titleColor": "#262626", "titlePadding": 3}},
  "y": {"field": "y", "type": "quantitative", "scale": {"domain": [-0.5, 1.5], "nice": false, "zero": false}, "axis": {"values": [-0.5, 0, 0.5, 1, 1.5], "labelExpr": "'' + datum.value", "title": "x₆ (rad/s)", "labelOverlap": false, "labelFont": "Liberation Serif", "labelFontSize": 12, "labelColor": "#262626", "labelPadding": 4, "titleFont": "Liberation Serif", "titleFontSize": 13, "titleFontWeight": "normal", "titleColor": "#262626", "titlePadding": 4}}},
 "layer": [
  {"transform": [{"filter": "datum.p=='x6' && datum.s=='a'"}], "mark": {"type": "line", "color": "#0072BD", "strokeWidth": 2, "interpolate": "monotone"}},
  {"transform": [{"filter": "datum.p=='x6' && datum.s=='b'"}], "mark": {"type": "line", "color": "black", "strokeWidth": 1.5, "strokeDash": [5, 3.5], "interpolate": "monotone"}}
]},
{"width": 280, "height": 116,
 "title": {"text": "(c) Control torques", "orient": "bottom", "anchor": "middle", "frame": "group", "offset": 7, "font": "Liberation Serif", "fontSize": 18, "fontWeight": "normal", "color": "black"},
 "encoding": {"x": {"field": "t", "type": "quantitative", "scale": {"domain": [0, 10], "nice": false}, "axis": {"values": [0, 2, 4, 6, 8, 10], "title": "Time (s)", "labelOverlap": false, "labelFont": "Liberation Serif", "labelFontSize": 12, "labelColor": "#262626", "labelPadding": 4, "titleFont": "Liberation Serif", "titleFontSize": 14, "titleFontWeight": "normal", "titleColor": "#262626", "titlePadding": 3}},
  "y": {"field": "y", "type": "quantitative", "scale": {"domain": [-20, 60], "nice": false, "zero": false}, "axis": {"values": [-20, 0, 20, 40, 60], "labelExpr": "'' + datum.value", "title": "u₃ (Nm)", "labelOverlap": false, "labelFont": "Liberation Serif", "labelFontSize": 12, "labelColor": "#262626", "labelPadding": 4, "titleFont": "Liberation Serif", "titleFontSize": 13, "titleFontWeight": "normal", "titleColor": "#262626", "titlePadding": 4}}},
 "layer": [
  {"data": {"name": "bands"}, "transform": [{"filter": "datum.p=='u3'"}], "mark": {"type": "area", "color": "#0072BD", "opacity": 1}, "encoding": {"y2": {"field": "hi"}}},
  {"data": {"name": "lines"}, "transform": [{"filter": "datum.p=='u3' && datum.s=='b'"}], "mark": {"type": "line", "color": "black", "strokeWidth": 1.5, "strokeDash": [5, 3.5], "interpolate": "monotone"}}
]}
]
}
